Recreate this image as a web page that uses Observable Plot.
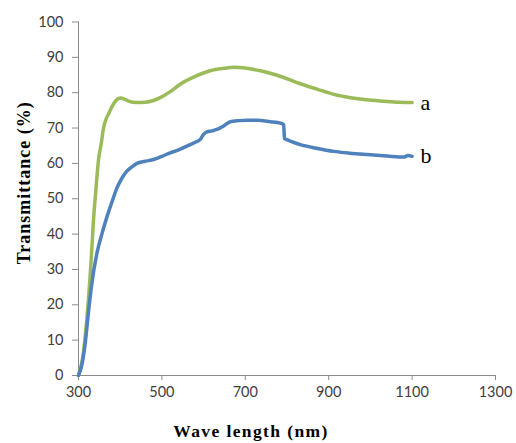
<!DOCTYPE html>
<html><head><meta charset="utf-8">
<script src="https://cdn.jsdelivr.net/npm/d3@7"></script>
<script src="https://cdn.jsdelivr.net/npm/@observablehq/plot@0.6"></script>
<style>body{margin:0;background:#fff}
.xlab text{letter-spacing:1.4px}
.ylab text{letter-spacing:1px}
</style>
</head><body><div id="chart"></div>
<script>
const wlA = [300,310,320,330,336,342,348,355,360,366,372,380,390,400,410,420,440,460,480,496,520,544,580,616,650,672,700,736,760,792,830,872,910,952,990,1032,1070,1100];
const tA  = [0,5,16,32,44,53,61,66,70,72.5,74,76,77.8,78.5,78.2,77.6,77.2,77.3,77.8,78.6,80.3,82.4,84.6,86.2,86.9,87.2,87.0,86.2,85.5,84.3,82.6,81,79.6,78.6,78,77.6,77.3,77.2];
const wlB = [300,308,316,324,332,344,356,368,380,392,404,416,428,440,460,480,500,520,540,560,580,592,600,608,620,632,648,664,684,704,730,760,784,792,794,798,832,870,912,950,992,1040,1080,1090,1100];
const tB  = [0,3,9,18,26,34.5,40,44.8,49,53,55.8,57.8,59,60,60.6,61.1,62,63,63.8,64.9,66,66.8,68.2,68.9,69.2,69.6,70.6,71.8,72.1,72.2,72.2,71.8,71.4,71,67,66.8,65.3,64.3,63.4,62.9,62.5,62.1,61.8,62.2,62];
const seriesNames = ["a","b"];
const seriesColors = ["#9bbb59","#4f81bd"];
const xTicks = [300,500,700,900,1100,1300];
const yTicks = [0,10,20,30,40,50,60,70,80,90,100];
const xLabel = "Wave length (nm)";
const yLabel = "Transmittance (%)";

const dataA = wlA.map((w,i)=>({w, t:tA[i]}));
const dataB = wlB.map((w,i)=>({w, t:tB[i]}));
const ends = [{w:1120, t:tA[tA.length-1], s:seriesNames[0]}, {w:1120, t:tB[tB.length-1], s:seriesNames[1]}];

const chart = Plot.plot({
  width: 516, height: 443,
  marginLeft: 78, marginRight: 21, marginTop: 21.5, marginBottom: 68,
  style: {fontFamily: "Lato, 'Liberation Sans', sans-serif", background: "#fff"},
  x: {domain: [300,1300]},
  y: {domain: [0,100]},
  marks: [
    Plot.ruleX([300], {stroke: "#8c8c8c", strokeWidth: 1}),
    Plot.ruleY([0], {stroke: "#8c8c8c", strokeWidth: 1}),
    Plot.axisX({ticks: xTicks, tickFormat: "d", tickSize: 5, tickPadding: 6, stroke: "#8c8c8c", fill: "#404040", fontSize: 14.5, label: null}),
    Plot.axisY({ticks: yTicks, tickFormat: "d", tickSize: 6, tickPadding: 9, stroke: "#8c8c8c", fill: "#404040", fontSize: 14.5, label: null}),
    Plot.line(dataA, {x: "w", y: "t", stroke: seriesColors[0], strokeWidth: 3.5, curve: "monotone-x"}),
    Plot.line(dataB, {x: "w", y: "t", stroke: seriesColors[1], strokeWidth: 3.5, curve: "monotone-x"}),
    Plot.text(ends, {x: "w", y: "t", text: "s", textAnchor: "start", fontSize: 22, fontFamily: "'Liberation Serif', serif", fill: "#000"}),
    Plot.text([xLabel], {frameAnchor: "bottom", textAnchor: "middle", dx: -36, dy: 61, fontSize: 17.5, fontWeight: "bold", fontFamily: "'Liberation Serif', serif", fill: "#000", className: "xlab"}),
    Plot.text([yLabel], {frameAnchor: "left", textAnchor: "middle", rotate: -90, dx: -54, dy: -16, fontSize: 18, fontWeight: "bold", fontFamily: "'Liberation Serif', serif", fill: "#000", className: "ylab"})
  ]
});
document.getElementById("chart").appendChild(chart);
</script></body></html>
